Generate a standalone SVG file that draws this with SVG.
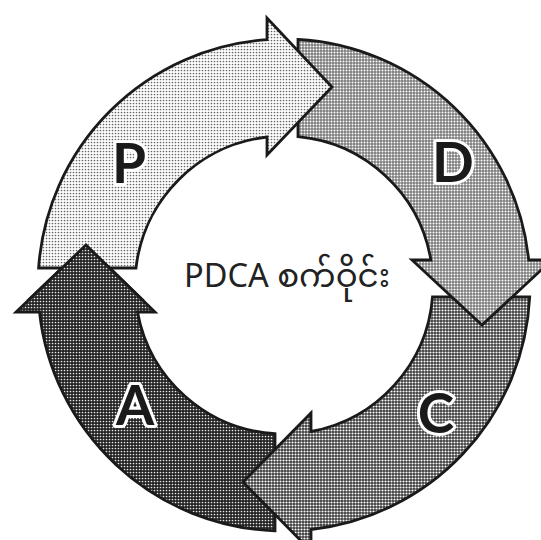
<svg xmlns="http://www.w3.org/2000/svg" width="541" height="540" viewBox="0 0 541 540">
  <defs>
    <!-- halftone fills for the four cycle stages -->
    <pattern id="tone-p" patternUnits="userSpaceOnUse" width="3" height="3">
      <rect width="3" height="3" fill="#ffffff"/>
      <circle cx="1.5" cy="1.5" r="0.85" fill="#666666"/>
    </pattern>
    <pattern id="tone-d" patternUnits="userSpaceOnUse" width="3" height="3">
      <rect width="3" height="3" fill="#7c7c7c"/>
      <circle cx="1.5" cy="1.5" r="1" fill="#ffffff"/>
    </pattern>
    <pattern id="tone-c" patternUnits="userSpaceOnUse" width="3" height="3">
      <rect width="3" height="3" fill="#3a3a3a"/>
      <circle cx="1.5" cy="1.5" r="1.05" fill="#ffffff"/>
    </pattern>
    <pattern id="tone-a" patternUnits="userSpaceOnUse" width="3" height="3">
      <rect width="3" height="3" fill="#222222"/>
      <circle cx="1.5" cy="1.5" r="0.85" fill="#e6e6e6"/>
    </pattern>
    <clipPath id="a-head">
      <rect x="0" y="200" width="250" height="100"/>
    </clipPath>
    <path id="shape-a" d="M275,530.8 A246,246 0 0 1 39.5,312 L16,312 L86,245 L155,312 L137.5,312 A149,149 0 0 0 275,433.7 Z"/>
  </defs>
  <style>
    .seg { stroke: #1a1a1a; stroke-width: 2.8; stroke-linejoin: miter; }
    .letter { font-family: Lato, "Open Sans", sans-serif; font-weight: 700; font-size: 55px; fill: #1a1a1a; stroke: #ffffff; stroke-width: 6; paint-order: stroke fill; stroke-linejoin: round; text-anchor: middle; }
    .title { font-family: "Noto Sans", "Noto Sans Myanmar", "Padauk", sans-serif; font-size: 32.5px; fill: #222222; text-anchor: middle; }
  </style>

  <rect width="541" height="540" fill="#ffffff"/>

  <g id="connectors"/>

  <!-- stage A: drawn first, its head redrawn on top of P below -->
  <g id="node-a">
    <use href="#shape-a" class="seg" fill="url(#tone-a)"/>
  </g>

  <g id="node-c">
    <path class="seg" fill="url(#tone-c)" d="M529.7,297 A246,246 0 0 1 311,529.5 L311,551 L243,482 L311,413 L311,431.5 A149,149 0 0 0 432.5,297 Z"/>
  </g>

  <g id="node-d">
    <path class="seg" fill="url(#tone-d)" d="M298,39.4 A246,246 0 0 1 528.7,260 L552,260 L482,325 L412,260 L430.9,260 A149,149 0 0 0 298,136.7 Z"/>
  </g>

  <g id="node-p">
    <path class="seg" fill="url(#tone-p)" d="M38.6,268 A246,246 0 0 1 267,39.6 L267,18 L332,87 L267,155 L267,137 A149,149 0 0 0 136,268 Z"/>
  </g>

  <!-- head of A overlapping the start of P -->
  <g id="node-a-head" clip-path="url(#a-head)">
    <use href="#shape-a" class="seg" fill="url(#tone-a)"/>
  </g>

  <g id="labels">
    <text class="letter" x="129" y="183">P</text>
    <text class="letter" x="453" y="182">D</text>
    <text class="letter" x="436" y="433">C</text>
    <text class="letter" x="135" y="425">A</text>
  </g>

  <text class="title" x="287" y="287">PDCA စက်ဝိုင်း</text>
</svg>
